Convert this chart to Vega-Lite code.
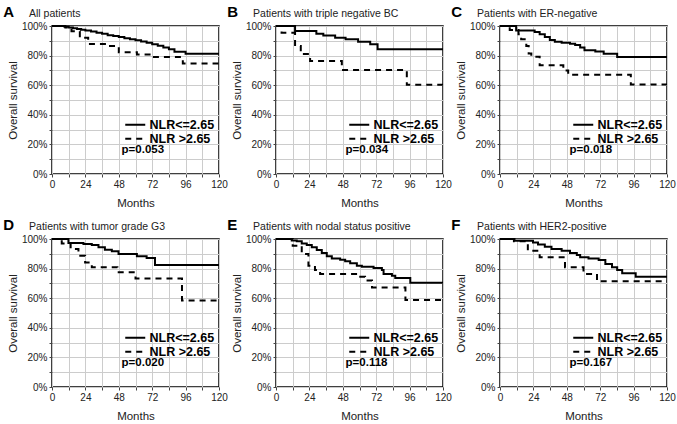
{
  "$schema": "https://vega.github.io/schema/vega-lite/v6.json",
  "padding": {"left": 2, "top": 3, "right": 2, "bottom": 2},
  "bounds": "flush",
  "columns": 3,
  "spacing": {"row": 65, "column": 57},
  "resolve": {"scale": {"strokeDash": "independent"}, "legend": {"strokeDash": "independent"}},
  "datasets": {
    "km": [
      {"p":"A","g":"NLR<=2.65","t":0,"s":1},{"p":"A","g":"NLR<=2.65","t":9,"s":0.995},{"p":"A","g":"NLR<=2.65","t":12,"s":0.99},{"p":"A","g":"NLR<=2.65","t":15,"s":0.985},{"p":"A","g":"NLR<=2.65","t":18,"s":0.98},{"p":"A","g":"NLR<=2.65","t":21,"s":0.975},{"p":"A","g":"NLR<=2.65","t":24,"s":0.97},{"p":"A","g":"NLR<=2.65","t":28,"s":0.963},{"p":"A","g":"NLR<=2.65","t":32,"s":0.955},{"p":"A","g":"NLR<=2.65","t":36,"s":0.948},{"p":"A","g":"NLR<=2.65","t":40,"s":0.938},{"p":"A","g":"NLR<=2.65","t":44,"s":0.932},{"p":"A","g":"NLR<=2.65","t":48,"s":0.926},{"p":"A","g":"NLR<=2.65","t":52,"s":0.918},{"p":"A","g":"NLR<=2.65","t":56,"s":0.91},{"p":"A","g":"NLR<=2.65","t":60,"s":0.903},{"p":"A","g":"NLR<=2.65","t":64,"s":0.895},{"p":"A","g":"NLR<=2.65","t":68,"s":0.886},{"p":"A","g":"NLR<=2.65","t":72,"s":0.876},{"p":"A","g":"NLR<=2.65","t":76,"s":0.866},{"p":"A","g":"NLR<=2.65","t":80,"s":0.855},{"p":"A","g":"NLR<=2.65","t":84,"s":0.843},{"p":"A","g":"NLR<=2.65","t":88,"s":0.826},{"p":"A","g":"NLR<=2.65","t":96,"s":0.813},{"p":"A","g":"NLR<=2.65","t":120,"s":0.813},
      {"p":"A","g":"NLR >2.65","t":0,"s":1},{"p":"A","g":"NLR >2.65","t":9.6,"s":0.99},{"p":"A","g":"NLR >2.65","t":14,"s":0.965},{"p":"A","g":"NLR >2.65","t":20,"s":0.92},{"p":"A","g":"NLR >2.65","t":26,"s":0.878},{"p":"A","g":"NLR >2.65","t":40,"s":0.865},{"p":"A","g":"NLR >2.65","t":48,"s":0.822},{"p":"A","g":"NLR >2.65","t":61,"s":0.808},{"p":"A","g":"NLR >2.65","t":72,"s":0.79},{"p":"A","g":"NLR >2.65","t":94,"s":0.747},{"p":"A","g":"NLR >2.65","t":120,"s":0.747},
      {"p":"B","g":"NLR<=2.65","t":0,"s":1},{"p":"B","g":"NLR<=2.65","t":13.7,"s":0.966},{"p":"B","g":"NLR<=2.65","t":29,"s":0.948},{"p":"B","g":"NLR<=2.65","t":34,"s":0.935},{"p":"B","g":"NLR<=2.65","t":42.5,"s":0.921},{"p":"B","g":"NLR<=2.65","t":50,"s":0.91},{"p":"B","g":"NLR<=2.65","t":59,"s":0.894},{"p":"B","g":"NLR<=2.65","t":67.7,"s":0.876},{"p":"B","g":"NLR<=2.65","t":73,"s":0.843},{"p":"B","g":"NLR<=2.65","t":120,"s":0.843},
      {"p":"B","g":"NLR >2.65","t":0,"s":1},{"p":"B","g":"NLR >2.65","t":4,"s":0.955},{"p":"B","g":"NLR >2.65","t":13.7,"s":0.865},{"p":"B","g":"NLR >2.65","t":17.8,"s":0.81},{"p":"B","g":"NLR >2.65","t":24.5,"s":0.764},{"p":"B","g":"NLR >2.65","t":47.3,"s":0.703},{"p":"B","g":"NLR >2.65","t":94,"s":0.603},{"p":"B","g":"NLR >2.65","t":120,"s":0.603},
      {"p":"C","g":"NLR<=2.65","t":0,"s":1},{"p":"C","g":"NLR<=2.65","t":11.6,"s":0.97},{"p":"C","g":"NLR<=2.65","t":24.9,"s":0.96},{"p":"C","g":"NLR<=2.65","t":28.5,"s":0.944},{"p":"C","g":"NLR<=2.65","t":32.2,"s":0.926},{"p":"C","g":"NLR<=2.65","t":35.8,"s":0.905},{"p":"C","g":"NLR<=2.65","t":39.4,"s":0.894},{"p":"C","g":"NLR<=2.65","t":44.3,"s":0.887},{"p":"C","g":"NLR<=2.65","t":50.3,"s":0.88},{"p":"C","g":"NLR<=2.65","t":54,"s":0.872},{"p":"C","g":"NLR<=2.65","t":57.6,"s":0.854},{"p":"C","g":"NLR<=2.65","t":60.7,"s":0.836},{"p":"C","g":"NLR<=2.65","t":68.5,"s":0.827},{"p":"C","g":"NLR<=2.65","t":74.5,"s":0.813},{"p":"C","g":"NLR<=2.65","t":84.2,"s":0.79},{"p":"C","g":"NLR<=2.65","t":120,"s":0.79},
      {"p":"C","g":"NLR >2.65","t":0,"s":1},{"p":"C","g":"NLR >2.65","t":7,"s":0.973},{"p":"C","g":"NLR >2.65","t":13.3,"s":0.944},{"p":"C","g":"NLR >2.65","t":15.2,"s":0.91},{"p":"C","g":"NLR >2.65","t":18.9,"s":0.865},{"p":"C","g":"NLR >2.65","t":20.6,"s":0.815},{"p":"C","g":"NLR >2.65","t":22.5,"s":0.793},{"p":"C","g":"NLR >2.65","t":28.5,"s":0.734},{"p":"C","g":"NLR >2.65","t":45.5,"s":0.70},{"p":"C","g":"NLR >2.65","t":49,"s":0.67},{"p":"C","g":"NLR >2.65","t":94,"s":0.605},{"p":"C","g":"NLR >2.65","t":120,"s":0.605},
      {"p":"D","g":"NLR<=2.65","t":0,"s":1},{"p":"D","g":"NLR<=2.65","t":11.8,"s":0.973},{"p":"D","g":"NLR<=2.65","t":22.6,"s":0.966},{"p":"D","g":"NLR<=2.65","t":28.6,"s":0.959},{"p":"D","g":"NLR<=2.65","t":33.4,"s":0.944},{"p":"D","g":"NLR<=2.65","t":38,"s":0.928},{"p":"D","g":"NLR<=2.65","t":43,"s":0.917},{"p":"D","g":"NLR<=2.65","t":47.8,"s":0.899},{"p":"D","g":"NLR<=2.65","t":61,"s":0.883},{"p":"D","g":"NLR<=2.65","t":68,"s":0.872},{"p":"D","g":"NLR<=2.65","t":74,"s":0.825},{"p":"D","g":"NLR<=2.65","t":120,"s":0.825},
      {"p":"D","g":"NLR >2.65","t":0,"s":1},{"p":"D","g":"NLR >2.65","t":7,"s":0.97},{"p":"D","g":"NLR >2.65","t":13.4,"s":0.932},{"p":"D","g":"NLR >2.65","t":19,"s":0.887},{"p":"D","g":"NLR >2.65","t":23.8,"s":0.842},{"p":"D","g":"NLR >2.65","t":28.6,"s":0.809},{"p":"D","g":"NLR >2.65","t":47,"s":0.775},{"p":"D","g":"NLR >2.65","t":60,"s":0.733},{"p":"D","g":"NLR >2.65","t":93.4,"s":0.585},{"p":"D","g":"NLR >2.65","t":120,"s":0.585},
      {"p":"E","g":"NLR<=2.65","t":0,"s":1},{"p":"E","g":"NLR<=2.65","t":11.3,"s":0.99},{"p":"E","g":"NLR<=2.65","t":14.9,"s":0.984},{"p":"E","g":"NLR<=2.65","t":18.5,"s":0.97},{"p":"E","g":"NLR<=2.65","t":22.1,"s":0.96},{"p":"E","g":"NLR<=2.65","t":25.7,"s":0.944},{"p":"E","g":"NLR<=2.65","t":29.3,"s":0.926},{"p":"E","g":"NLR<=2.65","t":32.9,"s":0.905},{"p":"E","g":"NLR<=2.65","t":36.5,"s":0.883},{"p":"E","g":"NLR<=2.65","t":40.1,"s":0.869},{"p":"E","g":"NLR<=2.65","t":46.1,"s":0.86},{"p":"E","g":"NLR<=2.65","t":49.7,"s":0.849},{"p":"E","g":"NLR<=2.65","t":53.3,"s":0.836},{"p":"E","g":"NLR<=2.65","t":58.1,"s":0.82},{"p":"E","g":"NLR<=2.65","t":61.7,"s":0.813},{"p":"E","g":"NLR<=2.65","t":70.1,"s":0.804},{"p":"E","g":"NLR<=2.65","t":76.1,"s":0.79},{"p":"E","g":"NLR<=2.65","t":77.3,"s":0.764},{"p":"E","g":"NLR<=2.65","t":83.3,"s":0.752},{"p":"E","g":"NLR<=2.65","t":85.7,"s":0.736},{"p":"E","g":"NLR<=2.65","t":96.5,"s":0.705},{"p":"E","g":"NLR<=2.65","t":120,"s":0.705},
      {"p":"E","g":"NLR >2.65","t":0,"s":1},{"p":"E","g":"NLR >2.65","t":12,"s":0.955},{"p":"E","g":"NLR >2.65","t":18.5,"s":0.899},{"p":"E","g":"NLR >2.65","t":23.3,"s":0.82},{"p":"E","g":"NLR >2.65","t":28,"s":0.79},{"p":"E","g":"NLR >2.65","t":31.7,"s":0.764},{"p":"E","g":"NLR >2.65","t":59.3,"s":0.745},{"p":"E","g":"NLR >2.65","t":64,"s":0.72},{"p":"E","g":"NLR >2.65","t":69,"s":0.673},{"p":"E","g":"NLR >2.65","t":93,"s":0.588},{"p":"E","g":"NLR >2.65","t":120,"s":0.588},
      {"p":"F","g":"NLR<=2.65","t":0,"s":1},{"p":"F","g":"NLR<=2.65","t":10.4,"s":0.989},{"p":"F","g":"NLR<=2.65","t":23.7,"s":0.977},{"p":"F","g":"NLR<=2.65","t":27.3,"s":0.962},{"p":"F","g":"NLR<=2.65","t":32.2,"s":0.948},{"p":"F","g":"NLR<=2.65","t":37,"s":0.932},{"p":"F","g":"NLR<=2.65","t":44.3,"s":0.921},{"p":"F","g":"NLR<=2.65","t":50.3,"s":0.905},{"p":"F","g":"NLR<=2.65","t":55.2,"s":0.892},{"p":"F","g":"NLR<=2.65","t":57.6,"s":0.876},{"p":"F","g":"NLR<=2.65","t":63.6,"s":0.869},{"p":"F","g":"NLR<=2.65","t":70.9,"s":0.858},{"p":"F","g":"NLR<=2.65","t":75.7,"s":0.831},{"p":"F","g":"NLR<=2.65","t":80.5,"s":0.809},{"p":"F","g":"NLR<=2.65","t":84.2,"s":0.79},{"p":"F","g":"NLR<=2.65","t":87.8,"s":0.768},{"p":"F","g":"NLR<=2.65","t":97.5,"s":0.745},{"p":"F","g":"NLR<=2.65","t":120,"s":0.745},
      {"p":"F","g":"NLR >2.65","t":0,"s":1},{"p":"F","g":"NLR >2.65","t":10,"s":0.984},{"p":"F","g":"NLR >2.65","t":20,"s":0.921},{"p":"F","g":"NLR >2.65","t":28.5,"s":0.876},{"p":"F","g":"NLR >2.65","t":46.7,"s":0.809},{"p":"F","g":"NLR >2.65","t":60,"s":0.764},{"p":"F","g":"NLR >2.65","t":69.7,"s":0.714},{"p":"F","g":"NLR >2.65","t":120,"s":0.714}
    ],
    "pv": [
      {"p":"A","L":"A","d":"All patients","txt":"p=0.053"},
      {"p":"B","L":"B","d":"Patients with triple negative BC","txt":"p=0.034"},
      {"p":"C","L":"C","d":"Patients with ER-negative","txt":"p=0.018"},
      {"p":"D","L":"D","d":"Patients with tumor grade G3","txt":"p=0.020"},
      {"p":"E","L":"E","d":"Patients with nodal status positive","txt":"p=0.118"},
      {"p":"F","L":"F","d":"Patients with HER2-positive","txt":"p=0.167"}
    ]
  },
  "config": {
    "font": "Liberation Sans",
    "view": {"stroke": "black", "strokeWidth": 1.5},
    "axis": {"grid": true, "gridColor": "#cccccc", "gridWidth": 1, "domain": false, "ticks": true, "tickColor": "#444", "tickSize": 3, "labelFontSize": 10, "labelColor": "#222", "labelFlush": false, "labelOverlap": false, "labelPadding": 2, "titleFontSize": 11.5, "titleFontWeight": "normal", "titleColor": "#222"},
    "axisX": {"titlePadding": 8},
    "axisY": {"titlePadding": 3},
    "legend": {"orient": "none", "legendX": 72, "legendY": 92.5, "padding": 0, "labelFontSize": 12.5, "labelFontWeight": "bold", "labelColor": "black", "labelOffset": 13, "symbolType": "M-1,0H3", "symbolSize": 100, "symbolStrokeWidth": 2.2, "symbolStrokeColor": "black", "symbolFillColor": "transparent", "rowPadding": 1},
    "line": {"interpolate": "step-after", "strokeWidth": 2, "color": "black"},
    "text": {"align": "left", "baseline": "middle", "fontWeight": "bold", "fontSize": 11.5, "color": "black"}
  },
  "concat": [
    {"width":167,"height":148,
     "layer":[
      {"data":{"name":"km"},"transform":[{"filter":"datum.p=='A'"}],"mark":"line",
       "encoding":{"x":{"field":"t","type":"quantitative","scale":{"domain":[0,120]},"axis":{"values":[0,12,24,36,48,60,72,84,96,108,120],"tickCount":40,"labelOverlap":false,"labelExpr":"datum.value%24==0?datum.label:''","title":"Months"}},
        "y":{"field":"s","type":"quantitative","scale":{"domain":[0,1]},"axis":{"values":[0,0.1,0.2,0.3,0.4,0.5,0.6,0.7,0.8,0.9,1],"tickCount":40,"labelOverlap":false,"format":".0%","labelExpr":"round(datum.value*10)%2==0?datum.label:''","title":"Overall survival"}},
        "strokeDash":{"field":"g","type":"nominal","scale":{"domain":["NLR<=2.65","NLR >2.65"],"range":[[1,0],[6,5]]},"legend":{"title":null}}}},
      {"data":{"name":"pv"},"transform":[{"filter":"datum.p=='A'"}],"mark":"text","encoding":{"x":{"datum":50,"type":"quantitative"},"y":{"datum":0.165,"type":"quantitative"},"text":{"field":"txt"}}},
      {"data":{"name":"pv"},"transform":[{"filter":"datum.p=='A'"}],"mark":{"type":"text","fontSize":15,"baseline":"alphabetic","clip":false},"encoding":{"x":{"datum":-35,"type":"quantitative"},"y":{"datum":1.064,"type":"quantitative"},"text":{"field":"L"}}},
      {"data":{"name":"pv"},"transform":[{"filter":"datum.p=='A'"}],"mark":{"type":"text","fontSize":10.5,"fontWeight":"normal","color":"#222","baseline":"alphabetic","clip":false},"encoding":{"x":{"datum":-16.5,"type":"quantitative"},"y":{"datum":1.064,"type":"quantitative"},"text":{"field":"d"}}}
     ]},
    {"width":167,"height":148,
     "layer":[
      {"data":{"name":"km"},"transform":[{"filter":"datum.p=='B'"}],"mark":"line",
       "encoding":{"x":{"field":"t","type":"quantitative","scale":{"domain":[0,120]},"axis":{"values":[0,12,24,36,48,60,72,84,96,108,120],"tickCount":40,"labelOverlap":false,"labelExpr":"datum.value%24==0?datum.label:''","title":"Months"}},
        "y":{"field":"s","type":"quantitative","scale":{"domain":[0,1]},"axis":{"values":[0,0.1,0.2,0.3,0.4,0.5,0.6,0.7,0.8,0.9,1],"tickCount":40,"labelOverlap":false,"format":".0%","labelExpr":"round(datum.value*10)%2==0?datum.label:''","title":"Overall survival"}},
        "strokeDash":{"field":"g","type":"nominal","scale":{"domain":["NLR<=2.65","NLR >2.65"],"range":[[1,0],[6,5]]},"legend":{"title":null}}}},
      {"data":{"name":"pv"},"transform":[{"filter":"datum.p=='B'"}],"mark":"text","encoding":{"x":{"datum":50,"type":"quantitative"},"y":{"datum":0.165,"type":"quantitative"},"text":{"field":"txt"}}},
      {"data":{"name":"pv"},"transform":[{"filter":"datum.p=='B'"}],"mark":{"type":"text","fontSize":15,"baseline":"alphabetic","clip":false},"encoding":{"x":{"datum":-35,"type":"quantitative"},"y":{"datum":1.064,"type":"quantitative"},"text":{"field":"L"}}},
      {"data":{"name":"pv"},"transform":[{"filter":"datum.p=='B'"}],"mark":{"type":"text","fontSize":10.5,"fontWeight":"normal","color":"#222","baseline":"alphabetic","clip":false},"encoding":{"x":{"datum":-16.5,"type":"quantitative"},"y":{"datum":1.064,"type":"quantitative"},"text":{"field":"d"}}}
     ]},
    {"width":167,"height":148,
     "layer":[
      {"data":{"name":"km"},"transform":[{"filter":"datum.p=='C'"}],"mark":"line",
       "encoding":{"x":{"field":"t","type":"quantitative","scale":{"domain":[0,120]},"axis":{"values":[0,12,24,36,48,60,72,84,96,108,120],"tickCount":40,"labelOverlap":false,"labelExpr":"datum.value%24==0?datum.label:''","title":"Months"}},
        "y":{"field":"s","type":"quantitative","scale":{"domain":[0,1]},"axis":{"values":[0,0.1,0.2,0.3,0.4,0.5,0.6,0.7,0.8,0.9,1],"tickCount":40,"labelOverlap":false,"format":".0%","labelExpr":"round(datum.value*10)%2==0?datum.label:''","title":"Overall survival"}},
        "strokeDash":{"field":"g","type":"nominal","scale":{"domain":["NLR<=2.65","NLR >2.65"],"range":[[1,0],[6,5]]},"legend":{"title":null}}}},
      {"data":{"name":"pv"},"transform":[{"filter":"datum.p=='C'"}],"mark":"text","encoding":{"x":{"datum":50,"type":"quantitative"},"y":{"datum":0.165,"type":"quantitative"},"text":{"field":"txt"}}},
      {"data":{"name":"pv"},"transform":[{"filter":"datum.p=='C'"}],"mark":{"type":"text","fontSize":15,"baseline":"alphabetic","clip":false},"encoding":{"x":{"datum":-35,"type":"quantitative"},"y":{"datum":1.064,"type":"quantitative"},"text":{"field":"L"}}},
      {"data":{"name":"pv"},"transform":[{"filter":"datum.p=='C'"}],"mark":{"type":"text","fontSize":10.5,"fontWeight":"normal","color":"#222","baseline":"alphabetic","clip":false},"encoding":{"x":{"datum":-16.5,"type":"quantitative"},"y":{"datum":1.064,"type":"quantitative"},"text":{"field":"d"}}}
     ]},
    {"width":167,"height":148,
     "layer":[
      {"data":{"name":"km"},"transform":[{"filter":"datum.p=='D'"}],"mark":"line",
       "encoding":{"x":{"field":"t","type":"quantitative","scale":{"domain":[0,120]},"axis":{"values":[0,12,24,36,48,60,72,84,96,108,120],"tickCount":40,"labelOverlap":false,"labelExpr":"datum.value%24==0?datum.label:''","title":"Months"}},
        "y":{"field":"s","type":"quantitative","scale":{"domain":[0,1]},"axis":{"values":[0,0.1,0.2,0.3,0.4,0.5,0.6,0.7,0.8,0.9,1],"tickCount":40,"labelOverlap":false,"format":".0%","labelExpr":"round(datum.value*10)%2==0?datum.label:''","title":"Overall survival"}},
        "strokeDash":{"field":"g","type":"nominal","scale":{"domain":["NLR<=2.65","NLR >2.65"],"range":[[1,0],[6,5]]},"legend":{"title":null}}}},
      {"data":{"name":"pv"},"transform":[{"filter":"datum.p=='D'"}],"mark":"text","encoding":{"x":{"datum":50,"type":"quantitative"},"y":{"datum":0.165,"type":"quantitative"},"text":{"field":"txt"}}},
      {"data":{"name":"pv"},"transform":[{"filter":"datum.p=='D'"}],"mark":{"type":"text","fontSize":15,"baseline":"alphabetic","clip":false},"encoding":{"x":{"datum":-35,"type":"quantitative"},"y":{"datum":1.064,"type":"quantitative"},"text":{"field":"L"}}},
      {"data":{"name":"pv"},"transform":[{"filter":"datum.p=='D'"}],"mark":{"type":"text","fontSize":10.5,"fontWeight":"normal","color":"#222","baseline":"alphabetic","clip":false},"encoding":{"x":{"datum":-16.5,"type":"quantitative"},"y":{"datum":1.064,"type":"quantitative"},"text":{"field":"d"}}}
     ]},
    {"width":167,"height":148,
     "layer":[
      {"data":{"name":"km"},"transform":[{"filter":"datum.p=='E'"}],"mark":"line",
       "encoding":{"x":{"field":"t","type":"quantitative","scale":{"domain":[0,120]},"axis":{"values":[0,12,24,36,48,60,72,84,96,108,120],"tickCount":40,"labelOverlap":false,"labelExpr":"datum.value%24==0?datum.label:''","title":"Months"}},
        "y":{"field":"s","type":"quantitative","scale":{"domain":[0,1]},"axis":{"values":[0,0.1,0.2,0.3,0.4,0.5,0.6,0.7,0.8,0.9,1],"tickCount":40,"labelOverlap":false,"format":".0%","labelExpr":"round(datum.value*10)%2==0?datum.label:''","title":"Overall survival"}},
        "strokeDash":{"field":"g","type":"nominal","scale":{"domain":["NLR<=2.65","NLR >2.65"],"range":[[1,0],[6,5]]},"legend":{"title":null}}}},
      {"data":{"name":"pv"},"transform":[{"filter":"datum.p=='E'"}],"mark":"text","encoding":{"x":{"datum":50,"type":"quantitative"},"y":{"datum":0.165,"type":"quantitative"},"text":{"field":"txt"}}},
      {"data":{"name":"pv"},"transform":[{"filter":"datum.p=='E'"}],"mark":{"type":"text","fontSize":15,"baseline":"alphabetic","clip":false},"encoding":{"x":{"datum":-35,"type":"quantitative"},"y":{"datum":1.064,"type":"quantitative"},"text":{"field":"L"}}},
      {"data":{"name":"pv"},"transform":[{"filter":"datum.p=='E'"}],"mark":{"type":"text","fontSize":10.5,"fontWeight":"normal","color":"#222","baseline":"alphabetic","clip":false},"encoding":{"x":{"datum":-16.5,"type":"quantitative"},"y":{"datum":1.064,"type":"quantitative"},"text":{"field":"d"}}}
     ]},
    {"width":167,"height":148,
     "layer":[
      {"data":{"name":"km"},"transform":[{"filter":"datum.p=='F'"}],"mark":"line",
       "encoding":{"x":{"field":"t","type":"quantitative","scale":{"domain":[0,120]},"axis":{"values":[0,12,24,36,48,60,72,84,96,108,120],"tickCount":40,"labelOverlap":false,"labelExpr":"datum.value%24==0?datum.label:''","title":"Months"}},
        "y":{"field":"s","type":"quantitative","scale":{"domain":[0,1]},"axis":{"values":[0,0.1,0.2,0.3,0.4,0.5,0.6,0.7,0.8,0.9,1],"tickCount":40,"labelOverlap":false,"format":".0%","labelExpr":"round(datum.value*10)%2==0?datum.label:''","title":"Overall survival"}},
        "strokeDash":{"field":"g","type":"nominal","scale":{"domain":["NLR<=2.65","NLR >2.65"],"range":[[1,0],[6,5]]},"legend":{"title":null}}}},
      {"data":{"name":"pv"},"transform":[{"filter":"datum.p=='F'"}],"mark":"text","encoding":{"x":{"datum":50,"type":"quantitative"},"y":{"datum":0.165,"type":"quantitative"},"text":{"field":"txt"}}},
      {"data":{"name":"pv"},"transform":[{"filter":"datum.p=='F'"}],"mark":{"type":"text","fontSize":15,"baseline":"alphabetic","clip":false},"encoding":{"x":{"datum":-35,"type":"quantitative"},"y":{"datum":1.064,"type":"quantitative"},"text":{"field":"L"}}},
      {"data":{"name":"pv"},"transform":[{"filter":"datum.p=='F'"}],"mark":{"type":"text","fontSize":10.5,"fontWeight":"normal","color":"#222","baseline":"alphabetic","clip":false},"encoding":{"x":{"datum":-16.5,"type":"quantitative"},"y":{"datum":1.064,"type":"quantitative"},"text":{"field":"d"}}}
     ]}
  ]
}
